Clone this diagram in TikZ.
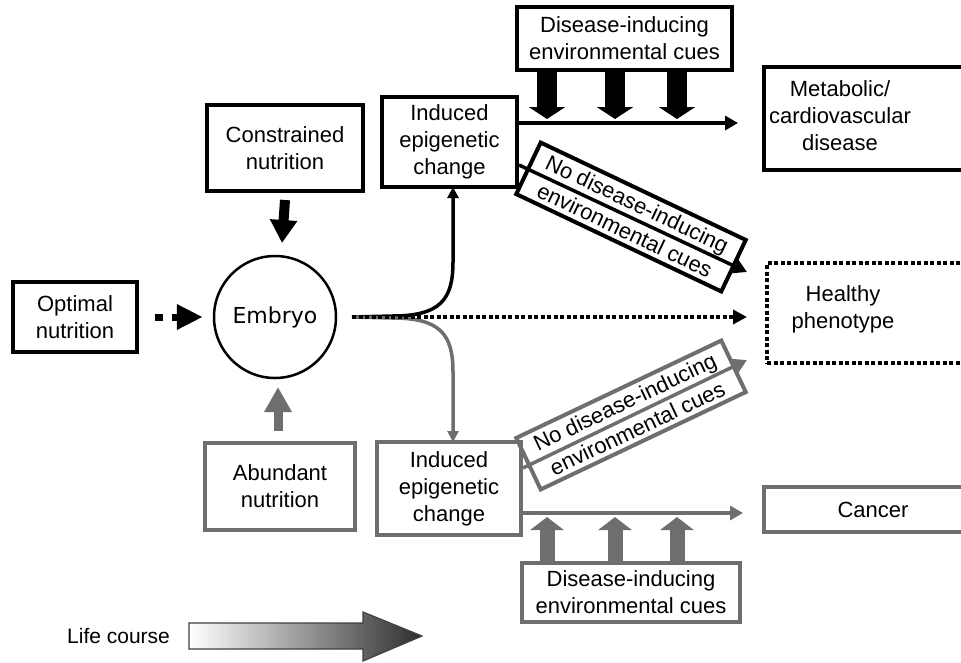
\documentclass[tikz,border=0pt]{standalone}
\usepackage{fontspec}
\setmainfont{Liberation Sans}
\newfontfamily\dejavu{DejaVu Sans}
\usetikzlibrary{arrows.meta,calc}
\definecolor{gr}{HTML}{6E6E6E}
\begin{document}
\begin{tikzpicture}[x=1pt,y=-1pt,
  every node/.style={font=\fontsize{22}{27}\selectfont, align=center, inner sep=0pt},
  bbox/.style={draw=black, line width=4pt, fill=white},
  gbox/.style={draw=gr, line width=4pt, fill=white},
  dbox/.style={draw=black, line width=4pt, dash pattern=on 4pt off 2.5pt, fill=white},
  blkline/.style={draw=black, line width=3.5pt, -{Triangle[length=13pt,width=14pt]}},
  gryline/.style={draw=gr, line width=3.5pt, -{Triangle[length=13pt,width=14pt]}},
  bigdown/.style={draw=black, line width=20pt, -{Triangle[length=12pt,width=36pt]}},
  bigup/.style={draw=gr, line width=15pt, -{Triangle[length=13pt,width=33pt]}},
  dotline/.style={draw=black, line width=4pt, dash pattern=on 4pt off 2.5pt, -{Triangle[length=14pt,width=14pt]}},
]
\useasboundingbox (0,0) rectangle (961,662);

% boxes
\node[bbox, minimum width=124pt, minimum height=70pt] (opt) at (75,317) {Optimal\\nutrition};
\node[draw=black, line width=2.5pt, circle, minimum size=122pt, font=\dejavu\fontsize{22}{26}\selectfont] (emb) at (275,317) {Embryo};
\node[bbox, minimum width=156pt, minimum height=86pt] (con) at (285,148) {Constrained\\nutrition};
\node[gbox, minimum width=150pt, minimum height=87pt] (abu) at (280,486.5) {Abundant\\nutrition};
\node[bbox, minimum width=135pt, minimum height=90pt] (ind1) at (449.5,142) {Induced\\epigenetic\\change};
\node[gbox, minimum width=144pt, minimum height=93pt] (ind2) at (449,488.5) {Induced\\epigenetic\\change};
\node[bbox, minimum width=215pt, minimum height=63pt] (dtop) at (624.5,38.5) {Disease-inducing\\environmental cues};
\node[gbox, minimum width=218pt, minimum height=59pt] (dbot) at (631,592.5) {Disease-inducing\\environmental cues};

% outcome boxes (clipped at right edge)
\node[bbox, minimum width=220pt, minimum height=103pt, anchor=west] (met) at (762,118.5) {};
\node (mett) at (840,116) {Metabolic/\\cardiovascular\\disease};
\node[dbox, minimum width=222pt, minimum height=100pt, anchor=west] (hea) at (765,313) {};
\node (heat) at (843,309) {Healthy\\phenotype};
\node[gbox, minimum width=222pt, minimum height=45pt, anchor=west] (can) at (762,509.5) {};
\node (cant) at (873,509.5) {Cancer};

% nutrition arrows
\draw[draw=black, line width=10pt, -{Triangle[length=23pt,width=26pt]}] (con.south |- 0,200) -- (282,243);
\draw[draw=gr, line width=9pt, -{Triangle[length=25pt,width=26pt]}] (278,431) -- (278,387);
\draw[draw=black, line width=7pt, dash pattern=on 8pt off 9pt, -{Triangle[length=26pt,width=24pt]}] ($(opt.east)+(16,0)$) -- ($(emb.west)+(-10,0)$);

% embryo outputs
\coordinate (es) at (352,317);
\draw[draw=black, line width=3.5pt, -{Triangle[length=11pt,width=11pt]}] (es) -- (392,316) .. controls (440,316) and (453,300) .. (453,262) -- (453,187);
\draw[draw=gr, line width=3.5pt, -{Triangle[length=11pt,width=11pt]}] (es) -- (392,318) .. controls (440,318) and (453,334) .. (453,372) -- (453,442);
\draw[dotline] (es) -- (747,317);

% top branch
\coordinate (m1) at (738,123);
\draw[blkline] (ind1.east |- m1) -- (m1);
\foreach \xx in {547,615,677}{
  \draw[bigdown] (\xx,69) -- (\xx,119);
}
\node[bbox, fill=none, rotate=-25.4, minimum width=227pt, minimum height=57pt, font=\fontsize{22}{29}\selectfont] (nd1) at (631,217) {No disease-inducing\\environmental cues};
\coordinate (d1) at (747,272);
\draw[blkline] (ind1.east |- 0,165) -- (d1);

% bottom branch
\coordinate (m2) at (743,513);
\draw[gryline] (ind2.east |- m2) -- (m2);
\foreach \xx in {547,615,677}{
  \draw[bigup] (\xx,564) -- (\xx,517);
}
\node[gbox, fill=none, rotate=25.4, minimum width=227pt, minimum height=57pt, font=\fontsize{22}{29}\selectfont] (nd2) at (631,415) {No disease-inducing\\environmental cues};
\coordinate (d2) at (747,360);
\draw[gryline] (ind2.east |- 0,468) -- (d2);

% life course
\node[anchor=west, font=\fontsize{21}{24}\selectfont] (lc) at (67,636) {Life course};
\shade[left color=white, right color=black!82, draw=black!75, line width=1.2pt]
  (189,623) -- (363,623) -- (363,612) -- (422,636) -- (363,661) -- (363,649) -- (189,649) -- cycle;
\end{tikzpicture}
\end{document}
